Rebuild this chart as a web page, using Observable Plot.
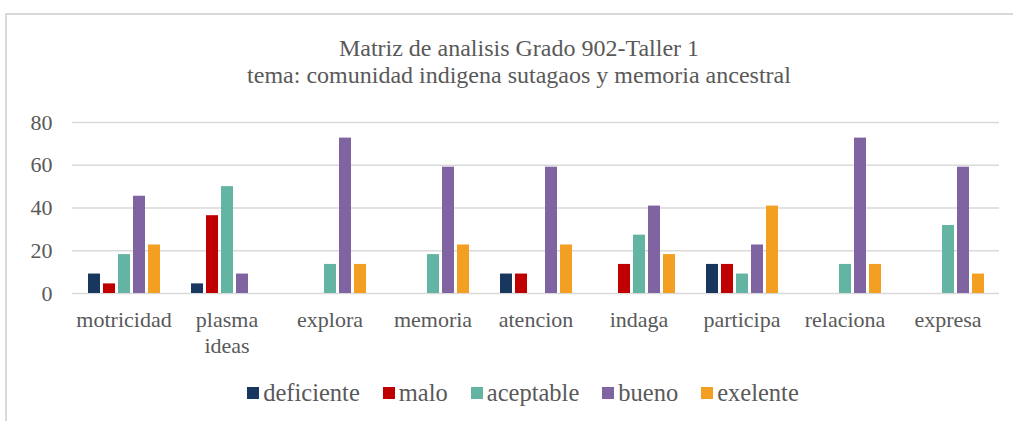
<!DOCTYPE html>
<html>
<head>
<meta charset="utf-8">
<script src="https://cdn.jsdelivr.net/npm/d3@7"></script>
<script src="https://cdn.jsdelivr.net/npm/@observablehq/plot@0.6"></script>
<style>
  html, body { margin: 0; padding: 0; background: #fff; overflow: hidden; }
  body { width: 1013px; height: 421px; position: relative; font-family: "Liberation Serif", Tinos, "Times New Roman", "DejaVu Serif", serif; color: #595959; }
  #frame { position: absolute; left: 5px; top: 13px; width: 1100px; height: 500px; border: 2px solid #d9d9d9; box-sizing: border-box; }
  #title { position: absolute; left: 0; width: 1038px; top: 35px; text-align: center; font-size: 24px; line-height: 27px; }
  #chart { position: absolute; left: 0; top: 100px; }
  #legend { position: absolute; left: 0; width: 1046px; top: 379px; display: flex; justify-content: center; align-items: center; font-size: 24.5px; line-height: 28px; }
  .item { display: flex; align-items: center; margin: 0 11.5px; }
  .sw { width: 12px; height: 12px; margin-right: 4px; display: inline-block; }
</style>
</head>
<body>
<div id="frame"></div>
<div id="title">Matriz de analisis Grado 902-Taller 1<br>tema: comunidad indigena sutagaos y memoria ancestral</div>
<div id="chart"></div>
<div id="legend"></div>
<script>
const categories = ["motricidad", "plasma ideas", "explora", "memoria", "atencion", "indaga", "participa", "relaciona", "expresa"];
const series = ["deficiente", "malo", "aceptable", "bueno", "exelente"];
const colors = ["#17375e", "#c00000", "#64b4a3", "#8064a2", "#f29f22"];
const deficiente = [9.1, 4.5, 0, 0, 9.1, 0, 13.6, 0, 0];
const malo = [4.5, 36.4, 0, 0, 9.1, 13.6, 13.6, 0, 0];
const aceptable = [18.2, 50, 13.6, 18.2, 0, 27.3, 9.1, 13.6, 31.8];
const bueno = [45.5, 9.1, 72.7, 59.1, 59.1, 40.9, 22.7, 72.7, 59.1];
const exelente = [22.7, 0, 13.6, 22.7, 22.7, 18.2, 40.9, 13.6, 9.1];
const yTicks = [0, 20, 40, 60, 80];

const valuesBySeries = {deficiente, malo, aceptable, bueno, exelente};
const data = [];
categories.forEach((c, i) => {
  series.forEach(s => {
    data.push({category: c, series: s, value: valuesBySeries[s][i]});
  });
});

const chart = Plot.plot({
  width: 1013,
  height: 283,
  marginLeft: 72,
  marginRight: 14,
  marginTop: 22,
  marginBottom: 90,
  style: {fontFamily: "'Liberation Serif', Tinos, 'Times New Roman', 'DejaVu Serif', serif", color: "#595959", background: "transparent", overflow: "visible"},
  fx: {domain: categories, padding: 0, label: null},
  x: {domain: series, axis: null, paddingInner: 0.2, paddingOuter: 0.82},
  y: {domain: [0, 80], label: null},
  color: {domain: series, range: colors},
  marks: [
    Plot.gridY(yTicks, {stroke: "#d9d9d9", strokeOpacity: 1, strokeWidth: 1.6}),
    Plot.barY(data.filter(d => d.value > 0), {fx: "category", x: "series", y: "value", fill: "series"}),
    Plot.axisY(yTicks, {tickSize: 0, tickPadding: 20, fontSize: 22, label: null}),
    Plot.axisFx({anchor: "bottom", tickSize: 0, tickPadding: 16, fontSize: 22, lineHeight: 1.15, label: null, tickFormat: d => d.replace(" ", "\n")})
  ]
});
document.getElementById("chart").appendChild(chart);

const legend = document.getElementById("legend");
series.forEach((s, i) => {
  const item = document.createElement("span");
  item.className = "item";
  const sw = document.createElement("span");
  sw.className = "sw";
  sw.style.background = colors[i];
  item.appendChild(sw);
  item.appendChild(document.createTextNode(s));
  legend.appendChild(item);
});
</script>
</body>
</html>
